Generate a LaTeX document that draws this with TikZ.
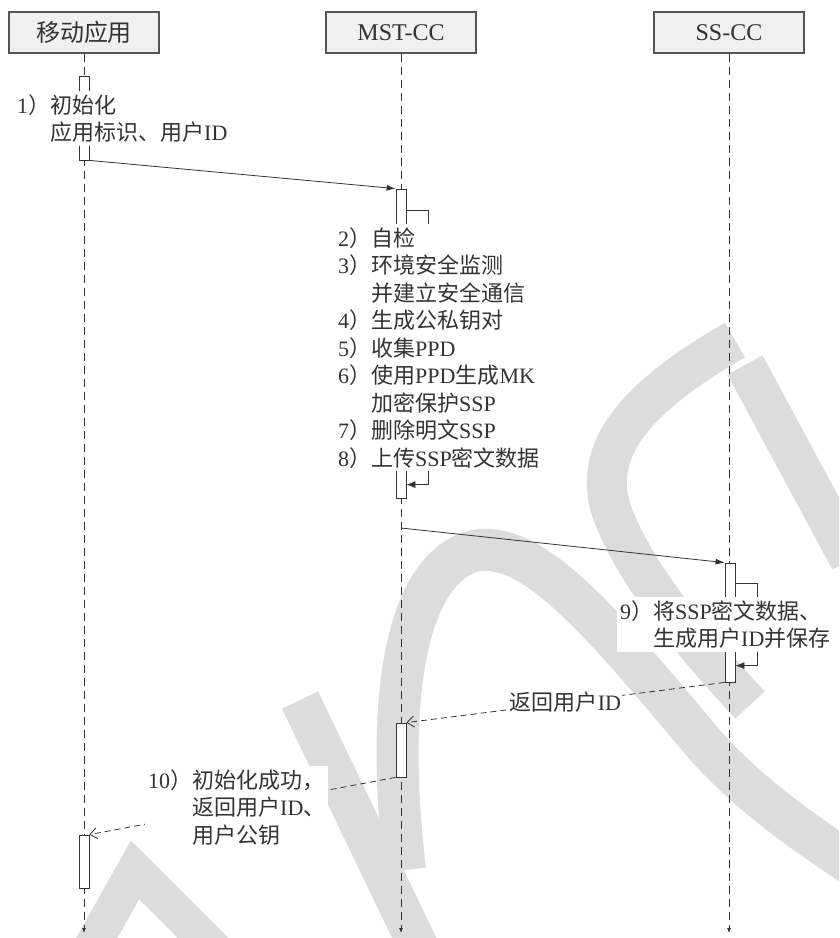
\documentclass[tikz,border=0pt]{standalone}
\usepackage{fontspec}
\setmainfont{Liberation Serif}
\newfontfamily\cjk{Noto Sans CJK SC}
\usetikzlibrary{arrows.meta}
\definecolor{ink}{HTML}{333333}
\definecolor{boxfill}{HTML}{F0F0F0}
\definecolor{boxline}{HTML}{555555}
\definecolor{wmgray}{HTML}{DCDCDC}
\begin{document}
\begin{tikzpicture}[x=1pt,y=-1pt,
  every node/.style={text=ink},
  head/.style={draw=boxline,fill=boxfill,line width=1.1pt,minimum width=150pt,minimum height=41pt,inner sep=0pt,font=\fontsize{24}{28}\selectfont},
  life/.style={draw=ink,line width=0.8pt,dash pattern=on 8pt off 5pt,-{Latex[length=5pt,width=4pt]}},
  act/.style={draw=ink,fill=white,line width=0.8pt,minimum width=10pt,inner sep=0pt},
  msg/.style={draw=ink,line width=0.8pt,-{Latex[length=9pt,width=6pt]}},
  ret/.style={draw=ink,line width=0.8pt,dash pattern=on 6pt off 4pt,-{Straight Barb[length=7pt,width=11pt]}},
  selfc/.style={draw=ink,line width=0.8pt,-{Latex[length=9pt,width=7pt]}},
  txt/.style={fill=white,inner xsep=3pt,inner ysep=3pt,align=left,anchor=north west,font=\fontsize{22}{27.5}\selectfont},
  wm/.style={draw=wmgray,line cap=butt,line join=miter},
]
\useasboundingbox (0,0) rectangle (839,938);
\fill[white] (0,0) rectangle (839,938);

% watermark
\begin{scope}
\clip (0,0) rectangle (839,938);
\draw[wm,line width=40pt] (735,340) .. controls (640,395) and (585,450) .. (615,520) .. controls (640,580) and (690,640) .. (750,705);
\draw[wm,line width=42pt] (405,870) .. controls (385,700) and (405,575) .. (470,552) .. controls (530,535) and (600,620) .. (705,745) .. controls (750,795) and (800,830) .. (860,870);
\draw[wm,line width=40pt] (745,365) -- (850,560);
\draw[wm,line width=40pt] (300,700) -- (420,950);
\draw[wm,line width=36pt] (90,950) -- (135,870) -- (215,950);
\end{scope}

% headers
\node[head] (h1) at (84,32.5) {\cjk 移动应用};
\node[head] (h2) at (401,32.5) {MST-CC};
\node[head] (h3) at (729,32.5) {SS-CC};

\coordinate (e1) at (84,933);
\coordinate (e2) at (401,933);
\coordinate (e3) at (729,933);
\draw[life] (h1.south) -- (e1);
\draw[life] (h2.south) -- (e2);
\draw[life] (h3.south) -- (e3);

% activations
\node[act,minimum height=84pt] (a1) at (84,118) {};
\node[act,minimum height=309pt] (m1) at (401,343.5) {};
\node[act,minimum height=119pt] (s1) at (730,622.5) {};
\node[act,minimum height=54pt] (m2) at (401,750) {};
\node[act,minimum height=53pt] (a2) at (84,861.5) {};

% messages
\draw[msg] (a1.south east) -- (m1.north west);
\coordinate (p2) at (401,528);
\draw[msg] (p2) -- (s1.north west);

% self calls
\draw[selfc] ([yshift=-22pt]m1.north east) -- ++(22,0) -- ++(0,274) -- ++(-22,0);
\draw[selfc] ([yshift=-21pt]s1.north east) -- ++(22,0) -- ++(0,82) -- ++(-22,0);

% returns
\draw[ret] (s1.south west) -- node[fill=white,inner sep=1pt,font=\fontsize{22}{27.5}\selectfont,pos=0.5] (l1) {{\cjk 返回用户}ID} (m2.north east);
\draw[ret] (m2.south west) -- (a2.north east);

% texts
\node[txt] (t1) at (14,91) {1{\cjk ）初始化}\\\phantom{1{\cjk ）}}{\cjk 应用标识、用户}ID};
\node[txt] (t2) at (335,224) {2{\cjk ）自检}\\
3{\cjk ）环境安全监测}\\
\phantom{3{\cjk ）}}{\cjk 并建立安全通信}\\
4{\cjk ）生成公私钥对}\\
5{\cjk ）收集}PPD\\
6{\cjk ）使用}PPD{\cjk 生成}MK\\
\phantom{6{\cjk ）}}{\cjk 加密保护}SSP\\
7{\cjk ）删除明文}SSP\\
8{\cjk ）上传}SSP{\cjk 密文数据}};
\node[txt] (t3) at (617,597) {9{\cjk ）将}SSP{\cjk 密文数据、}\\\phantom{9{\cjk ）}}{\cjk 生成用户}ID{\cjk 并保存}};
\node[txt] (t4) at (145,766) {10{\cjk ）初始化成功，}\\\phantom{10{\cjk ）}}{\cjk 返回用户}ID{\cjk 、}\\\phantom{10{\cjk ）}}{\cjk 用户公钥}};
\end{tikzpicture}
\end{document}
